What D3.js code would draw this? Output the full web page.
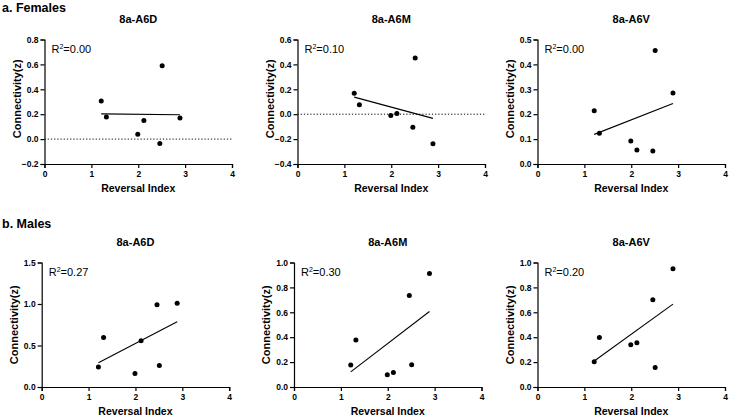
<!DOCTYPE html>
<html>
<head>
<meta charset="utf-8">
<script src="https://cdn.jsdelivr.net/npm/d3@7"></script>
<style>
  body { margin: 0; background: #fff; }
  svg { display: block; }
  text { font-family: "Liberation Sans", Arial, sans-serif; fill: #000; }
</style>
</head>
<body>
<svg id="chart" width="729" height="417"></svg>
<script>
// ---------- data ----------
const reversalIndex = [1.21, 1.32, 1.99, 2.12, 2.46, 2.51, 2.89];

const femalesA6D = [0.306, 0.177, 0.038, 0.150, -0.035, 0.589, 0.169];
const femalesA6M = [0.168, 0.075, -0.011, 0.005, -0.104, 0.452, -0.238];
const femalesA6V = [0.214, 0.123, 0.092, 0.056, 0.052, 0.456, 0.285];
const malesA6D = [0.240, 0.596, 0.164, 0.556, 0.992, 0.260, 1.008];
const malesA6M = [0.176, 0.378, 0.098, 0.117, 0.734, 0.178, 0.912];
const malesA6V = [0.203, 0.397, 0.339, 0.355, 0.701, 0.157, 0.949];

const panelTitles = ["8a-A6D", "8a-A6M", "8a-A6V", "8a-A6D", "8a-A6M", "8a-A6V"];
const r2Labels = ["0.00", "0.10", "0.00", "0.27", "0.30", "0.20"];
const yDomains = [[-0.2, 0.8], [-0.4, 0.6], [0, 0.5], [0, 1.5], [0, 1.0], [0, 1.0]];
const yTickSteps = [0.2, 0.2, 0.1, 0.5, 0.2, 0.2];
const xTicks = [0, 1, 2, 3, 4];
const groupLabels = ["a. Females", "b. Males"];
const xAxisTitle = "Reversal Index";
const yAxisTitle = "Connectivity(z)";

// ---------- layout ----------
const series = [femalesA6D, femalesA6M, femalesA6V, malesA6D, malesA6M, malesA6V];
const plotLeft = [44.5, 297.5, 537.5, 41.7, 294, 537.5];
const plotTop = [39.5, 39.5, 39.5, 262.5, 262.5, 262.5];
const plotW = 187.5, plotH = 124.5;

const svg = d3.select("#chart");

svg.append("text").attr("x", 2).attr("y", 11.5)
  .style("font-size", "12.5px").style("font-weight", "bold").text(groupLabels[0]);
svg.append("text").attr("x", 2).attr("y", 228)
  .style("font-size", "12.5px").style("font-weight", "bold").text(groupLabels[1]);

function linreg(xs, ys) {
  const mx = d3.mean(xs), my = d3.mean(ys);
  let sxy = 0, sxx = 0;
  xs.forEach((x, i) => { sxy += (x - mx) * (ys[i] - my); sxx += (x - mx) * (x - mx); });
  const b = sxy / sxx;
  return { a: my - b * mx, b };
}

series.forEach((ys, p) => {
  const g = svg.append("g").attr("transform", `translate(${plotLeft[p]},${plotTop[p]})`);
  const x = d3.scaleLinear().domain([0, 4]).range([0, plotW]);
  const y = d3.scaleLinear().domain(yDomains[p]).range([plotH, 0]);
  const yt = d3.range(yDomains[p][0], yDomains[p][1] + yTickSteps[p] / 2, yTickSteps[p]);

  // zero reference line
  if (yDomains[p][0] < 0) {
    g.append("line")
      .attr("x1", x(0)).attr("x2", x(4))
      .attr("y1", y(0)).attr("y2", y(0))
      .attr("stroke", "#000").attr("stroke-width", 1)
      .attr("stroke-dasharray", "1.2,2");
  }

  const xa = g.append("g").attr("transform", `translate(0,${plotH})`)
    .call(d3.axisBottom(x).tickValues(xTicks).tickFormat(d3.format("d")).tickSize(4).tickPadding(3));
  const ya = g.append("g")
    .call(d3.axisLeft(y).tickValues(yt).tickFormat(d3.format(".1f")).tickSize(4).tickPadding(2));
  [xa, ya].forEach(a => {
    a.selectAll("path").attr("stroke", "#000").attr("stroke-width", 1.2);
    a.selectAll("line").attr("stroke", "#000").attr("stroke-width", 1.2);
    a.selectAll("text").style("font-size", "8.5px").style("font-weight", "bold")
      .style("font-family", '"Liberation Sans", Arial, sans-serif').attr("fill", "#000");
  });

  // regression line
  const fit = linreg(reversalIndex, ys);
  const xmin = d3.min(reversalIndex), xmax = d3.max(reversalIndex);
  g.append("line")
    .attr("x1", x(xmin)).attr("y1", y(fit.a + fit.b * xmin))
    .attr("x2", x(xmax)).attr("y2", y(fit.a + fit.b * xmax))
    .attr("stroke", "#000").attr("stroke-width", 1.1);

  // points
  g.selectAll("circle.pt").data(ys).enter().append("circle")
    .attr("class", "pt")
    .attr("cx", (d, i) => x(reversalIndex[i]))
    .attr("cy", d => y(d))
    .attr("r", 2.5).attr("fill", "#000");

  // R^2 label
  const rt = g.append("text").attr("x", 7).attr("y", 13.5).style("font-size", "11px");
  rt.append("tspan").text("R");
  rt.append("tspan").attr("dy", -4).style("font-size", "7px").text("2");
  rt.append("tspan").attr("dy", 4).text("=" + r2Labels[p]);

  // titles
  g.append("text").attr("x", plotW / 2).attr("y", -16.5)
    .attr("text-anchor", "middle").style("font-size", "11px").style("font-weight", "bold")
    .text(panelTitles[p]);
  g.append("text").attr("x", plotW / 2).attr("y", plotH + 27.5)
    .attr("text-anchor", "middle").style("font-size", "10.5px").style("font-weight", "bold")
    .text(xAxisTitle);
  g.append("text")
    .attr("transform", `translate(${-24},${plotH / 2 - (p < 3 ? 3 : 0)}) rotate(-90)`)
    .attr("text-anchor", "middle").style("font-size", "11px").style("font-weight", "bold")
    .text(yAxisTitle);
});
</script>
</body>
</html>
